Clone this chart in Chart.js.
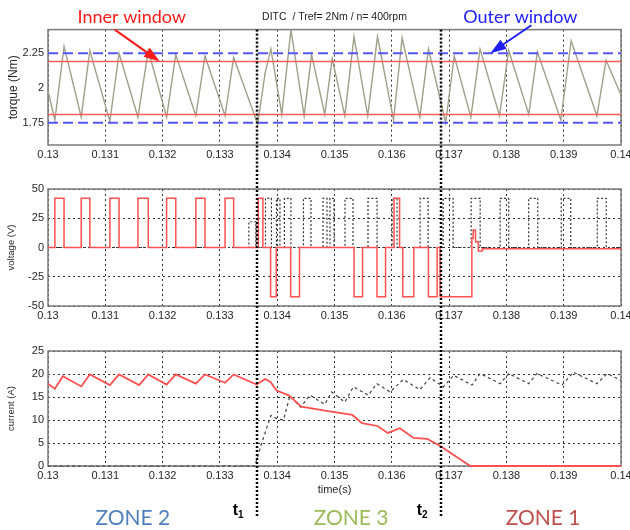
<!DOCTYPE html>
<html>
<head>
<meta charset="utf-8">
<script src="https://cdn.jsdelivr.net/npm/chart.js@4.4.1/dist/chart.umd.min.js"></script>
<style>
  html, body { margin: 0; padding: 0; background: #fff; overflow: hidden; }
  #wrap { position: relative; width: 630px; height: 530px; overflow: hidden; }
  canvas { position: absolute; left: 0; }
</style>
</head>
<body>
<div id="wrap">
  <canvas id="torque" width="640" height="170" style="top:0"></canvas>
  <canvas id="voltage" width="640" height="160" style="top:170px"></canvas>
  <canvas id="current" width="640" height="200" style="top:330px"></canvas>
</div>
<script>
// time axis
const tMin = 0.13, tMax = 0.14;
const xTicks = [0.13, 0.131, 0.132, 0.133, 0.134, 0.135, 0.136, 0.137, 0.138, 0.139, 0.14];
const switchTimes = [0.13364, 0.136852];          // t1, t2
const zoneNames = ['ZONE 2', 'ZONE 3', 'ZONE 1'];
const zoneAt = [0.13148, 0.13529, 0.13864];
const zoneColors = ['#4f81bd', '#9bbb59', '#c0504d'];

// torque (Nm)
const torqueTicks = [1.75, 2, 2.25];
const innerWin = [1.81, 2.19];
const outerWin = [1.75, 2.25];
const tqTime = [0.13, 0.13012, 0.13028, 0.13058, 0.13073, 0.13108, 0.13124, 0.13157, 0.13175, 0.13207,
  0.13223, 0.13258, 0.13274, 0.13309, 0.13324, 0.13366, 0.13379, 0.13389, 0.13408, 0.13424,
  0.13447, 0.1346, 0.13483, 0.13496, 0.13518, 0.13534, 0.13558, 0.13575, 0.13603, 0.13618,
  0.13649, 0.13664, 0.13694, 0.13709, 0.13738, 0.13754, 0.13788, 0.13804, 0.13839, 0.13854,
  0.13895, 0.13913, 0.13958, 0.13974, 0.14];
const tqVal = [1.98, 1.77, 2.30, 1.79, 2.27, 1.76, 2.25, 1.79, 2.27, 1.79,
  2.24, 1.80, 2.23, 1.80, 2.22, 1.74, 2.11, 2.28, 1.81, 2.42,
  1.80, 2.24, 1.81, 2.21, 1.80, 2.37, 1.80, 2.37, 1.77, 2.36,
  1.79, 2.28, 1.75, 2.23, 1.79, 2.28, 1.80, 2.27, 1.81, 2.26,
  1.77, 2.34, 1.80, 2.20, 1.95];

// voltage (V), value holds until next time
const voltTicks = [-50, -25, 0, 25, 50];
const vRedTime = [0.13, 0.13012, 0.13028, 0.13058, 0.13073, 0.13108, 0.13124, 0.13157, 0.13175, 0.13207,
  0.13223, 0.13258, 0.13274, 0.13309, 0.13324, 0.13367, 0.13375, 0.133885, 0.133983, 0.134235,
  0.134389, 0.135341, 0.135489, 0.135742, 0.135891, 0.136039, 0.136136, 0.136191, 0.136384, 0.136639,
  0.136791, 0.136843, 0.137397, 0.13742, 0.13746, 0.13751, 0.13758, 0.14];
const vRedVal = [0, 42, 0, 42, 0, 42, 0, 42, 0, 42,
  0, 42, 0, 42, 0, 42, 0, -42, 0, -42,
  0, -42, 0, -42, 0, 42, 0, -42, 0, -42,
  0, -42, 8, 15, 5, -3, -1, -1];
const vBlkTime = [0.13, 0.133506, 0.133629, 0.133795, 0.133899, 0.133987, 0.134048, 0.134126, 0.13424, 0.134458,
  0.13459, 0.134799, 0.134869, 0.134921, 0.134991, 0.135183, 0.135323, 0.135585, 0.135743, 0.136005,
  0.136092, 0.136494, 0.136634, 0.136896, 0.13707, 0.137385, 0.137542, 0.137891, 0.13804, 0.138389,
  0.138547, 0.138957, 0.139123, 0.139586, 0.139743, 0.14];
const vBlkVal = [0, 22, 0, 42, 0, 42, 0, 42, 0, 42,
  0, 42, 0, 42, 0, 42, 0, 42, 0, 42,
  0, 42, 0, 42, 0, 42, 0, 42, 0, 42,
  0, 42, 0, 42, 0, 0];

// current (A)
const currTicks = [0, 5, 10, 15, 20, 25];
const iRedTime = [0.13, 0.13012, 0.13026, 0.13058, 0.13073, 0.13108, 0.13124, 0.13159, 0.13175, 0.13207,
  0.13223, 0.13258, 0.13274, 0.13309, 0.13324, 0.13364, 0.13379, 0.13388, 0.13399, 0.13421,
  0.13442, 0.13486, 0.13531, 0.13548, 0.13575, 0.13593, 0.13614, 0.13638, 0.13662, 0.13684,
  0.13708, 0.13737, 0.14];
const iRedVal = [17.9, 16.8, 19.5, 17.3, 19.9, 17.6, 19.9, 17.6, 19.9, 17.7,
  19.9, 17.9, 19.9, 18.1, 19.9, 17.7, 18.9, 18.3, 16.4, 15.3,
  12.9, 12.0, 11.1, 9.3, 8.7, 7.2, 8.2, 6.1, 5.9, 4.4,
  2.4, 0, 0];
const iBlkTime = [0.13, 0.13361, 0.13373, 0.13389, 0.13399, 0.13411, 0.13422, 0.13441, 0.13457, 0.13483,
  0.13495, 0.13518, 0.13533, 0.13559, 0.13574, 0.13597, 0.1362, 0.13649, 0.13667, 0.1369,
  0.13708, 0.1374, 0.13754, 0.13789, 0.13804, 0.13839, 0.13853, 0.13897, 0.13917, 0.13958,
  0.13976, 0.14];
const iBlkVal = [0, 0, 5.0, 11.0, 10.3, 10.0, 15.2, 12.8, 15.4, 13.4,
  16.1, 13.9, 17.2, 15.4, 17.9, 16.1, 18.8, 16.6, 19.2, 17.2,
  19.7, 17.6, 20.1, 17.9, 20.1, 17.9, 20.1, 17.6, 20.4, 17.9,
  20.1, 18.6];

Chart.defaults.font.family = '"Liberation Sans", Arial, sans-serif';
Chart.defaults.font.size = 11;
Chart.defaults.color = '#262626';

const pts = (xs, ys) => xs.map((x, i) => ({ x, y: ys[i] }));
const hline = v => pts([tMin, tMax], [v, v]);

function xAxis(h, extra) {
  return Object.assign({
    type: 'linear', min: tMin, max: tMax,
    afterBuildTicks: s => { s.ticks = xTicks.map(v => ({ value: v })); },
    afterFit: s => { s.height = h; },
    grid: { color: '#333', lineWidth: 1, drawTicks: false },
    border: { display: false, dash: [2, 3] },
    ticks: { autoSkip: false, maxRotation: 0, padding: 3, callback: v => String(+v.toFixed(3)) }
  }, extra || {});
}

function yAxis(min, max, ticks, title, size, showGrid) {
  return {
    min, max,
    afterBuildTicks: s => { s.ticks = ticks.map(v => ({ value: v })); },
    afterFit: s => { s.width = 48; },
    grid: { display: showGrid, color: '#333', lineWidth: 1, drawTicks: false },
    border: { display: false, dash: [2, 3] },
    ticks: { padding: 4, callback: v => String(v) },
    title: { display: true, text: title, font: { size }, padding: { top: 6, bottom: 0 } }
  };
}

// frame box under the data, t1 / t2 lines on top
const frame = {
  id: 'frame',
  beforeDatasetsDraw(chart) {
    const { ctx, chartArea: a } = chart;
    ctx.save();
    ctx.strokeStyle = '#7a7a7a';
    ctx.lineWidth = 1.5;
    ctx.strokeRect(a.left, a.top, a.right - a.left, a.bottom - a.top);
    ctx.restore();
  },
  afterDraw(chart, args, opts) {
    const { ctx, chartArea: a, scales: { x } } = chart;
    ctx.save();
    ctx.strokeStyle = '#000';
    ctx.lineWidth = 2.5;
    ctx.setLineDash([2, 2]);
    switchTimes.forEach(t => {
      const px = Math.round(x.getPixelForValue(t));
      ctx.beginPath();
      ctx.moveTo(px, opts.fromArea ? a.top : 0);
      ctx.lineTo(px, opts.to || chart.height);
      ctx.stroke();
    });
    ctx.restore();
  }
};

function arrow(ctx, x0, y0, x1, y1, color) {
  const ang = Math.atan2(y1 - y0, x1 - x0), L = 16, W = 5.5;
  const c = Math.cos(ang), s = Math.sin(ang);
  ctx.strokeStyle = color;
  ctx.fillStyle = color;
  ctx.lineWidth = 2;
  ctx.beginPath();
  ctx.moveTo(x0, y0);
  ctx.lineTo(x1 - L * 0.8 * c, y1 - L * 0.8 * s);
  ctx.stroke();
  ctx.beginPath();
  ctx.moveTo(x1, y1);
  ctx.lineTo(x1 - L * c + W * s, y1 - L * s - W * c);
  ctx.lineTo(x1 - L * c - W * s, y1 - L * s + W * c);
  ctx.closePath();
  ctx.fill();
}

const windowNotes = {
  id: 'windowNotes',
  afterDraw(chart) {
    const { ctx, scales: { x, y } } = chart;
    ctx.save();
    ctx.font = '18px Lato';
    ctx.textAlign = 'center';
    ctx.textBaseline = 'middle';
    const ix = x.getPixelForValue(0.13195), iy = y.getPixelForValue(innerWin[1]);
    arrow(ctx, ix - 45, iy - 32, ix, iy, '#ff1a1a');
    ctx.fillStyle = '#ff1a1a';
    ctx.fillText('Inner window', ix - 28, iy - 44);
    const ox = x.getPixelForValue(0.13772), oy = y.getPixelForValue(outerWin[1]);
    arrow(ctx, ox + 41, oy - 28, ox, oy, '#2020ff');
    ctx.fillStyle = '#2020ff';
    ctx.fillText('Outer window', ox + 30, oy - 36);
    ctx.restore();
  }
};

const zoneNotes = {
  id: 'zoneNotes',
  afterDraw(chart) {
    const { ctx, scales: { x } } = chart;
    ctx.save();
    ctx.font = '21px Lato';
    ctx.textAlign = 'center';
    ctx.textBaseline = 'alphabetic';
    zoneNames.forEach((n, i) => {
      ctx.fillStyle = zoneColors[i];
      ctx.fillText(n, x.getPixelForValue(zoneAt[i]), 195);
    });
    ctx.fillStyle = '#000';
    ctx.textAlign = 'right';
    switchTimes.forEach((t, i) => {
      const px = x.getPixelForValue(t) - 13;
      ctx.font = 'bold 10px "Liberation Sans"';
      ctx.fillText(String(i + 1), px, 188);
      const w = ctx.measureText(String(i + 1)).width;
      ctx.font = 'bold 16px "Liberation Sans"';
      ctx.fillText('t', px - w, 185);
    });
    ctx.restore();
  }
};

const base = {
  responsive: false,
  animation: false,
  events: [],
  elements: { point: { radius: 0 }, line: { tension: 0, borderJoinStyle: 'miter' } }
};

new Chart(document.getElementById('torque'), {
  type: 'line',
  data: {
    datasets: [
      { data: hline(outerWin[1]), borderColor: '#5555ff', borderWidth: 2, borderDash: [10, 5] },
      { data: hline(outerWin[0]), borderColor: '#5555ff', borderWidth: 2, borderDash: [10, 5] },
      { data: hline(innerWin[1]), borderColor: '#ff5c5c', borderWidth: 1.5 },
      { data: hline(innerWin[0]), borderColor: '#ff5c5c', borderWidth: 1.5 },
      { data: pts(tqTime, tqVal), borderColor: '#a0a088', borderWidth: 1.4 }
    ]
  },
  options: Object.assign({}, base, {
    layout: { padding: { left: 0, right: 19, top: 0, bottom: 0 } },
    plugins: {
      legend: { display: false },
      tooltip: { enabled: false },
      title: { display: true, fullSize: false, text: 'DITC  / Tref= 2Nm / n= 400rpm',
        font: { size: 10.5, weight: 'normal' }, color: '#222', padding: { top: 11, bottom: 6 } },
      frame: { fromArea: true }
    },
    scales: {
      x: xAxis(25),
      y: yAxis(1.59, 2.42, torqueTicks, 'torque (Nm)', 12, false)
    }
  }),
  plugins: [frame, windowNotes]
});

new Chart(document.getElementById('voltage'), {
  type: 'line',
  data: {
    datasets: [
      { data: pts(vRedTime, vRedVal), stepped: 'before', borderColor: '#ff5050', borderWidth: 1.5 },
      { data: pts(vBlkTime, vBlkVal), stepped: 'before', borderColor: '#333', borderWidth: 1.2, borderDash: [2, 2] }
    ]
  },
  options: Object.assign({}, base, {
    layout: { padding: { left: 0, right: 19, top: 19, bottom: 0 } },
    plugins: { legend: { display: false }, tooltip: { enabled: false }, frame: {} },
    scales: {
      x: xAxis(24),
      y: yAxis(-50, 50, voltTicks, 'voltage (V)', 9.5, true)
    }
  }),
  plugins: [frame]
});

new Chart(document.getElementById('current'), {
  type: 'line',
  data: {
    datasets: [
      { data: pts(iRedTime, iRedVal), borderColor: '#ff5050', borderWidth: 1.8, clip: 3 },
      { data: pts(iBlkTime, iBlkVal), borderColor: '#444', borderWidth: 1.2, borderDash: [3, 3], clip: 3 }
    ]
  },
  options: Object.assign({}, base, {
    layout: { padding: { left: 0, right: 19, top: 21, bottom: 0 } },
    plugins: { legend: { display: false }, tooltip: { enabled: false }, frame: { to: 188 } },
    scales: {
      x: xAxis(64, { title: { display: true, text: 'time(s)', font: { size: 11 }, padding: { top: 0, bottom: 33 } } }),
      y: yAxis(0, 25, currTicks, 'current (A)', 9.5, true)
    }
  }),
  plugins: [frame, zoneNotes]
});
</script>
</body>
</html>
